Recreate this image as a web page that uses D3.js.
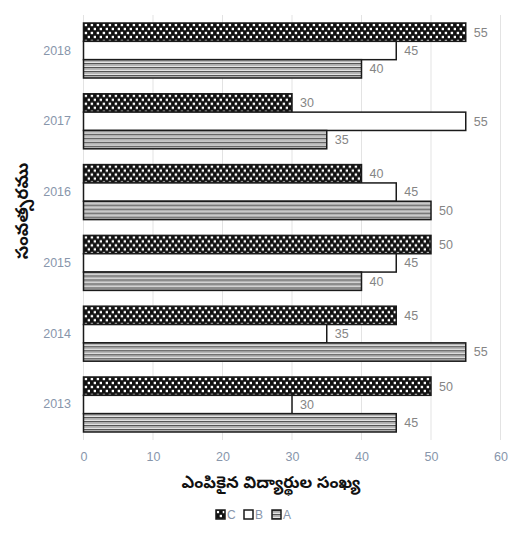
<!DOCTYPE html>
<html>
<head>
<meta charset="utf-8">
<script src="https://cdn.jsdelivr.net/npm/d3@7/dist/d3.min.js"></script>
<style>
  html, body { margin: 0; padding: 0; background: #fff; }
  svg { display: block; }
</style>
</head>
<body>
<svg id="chart" width="523" height="534"></svg>
<script>
// ---- data ----
const years = ["2018", "2017", "2016", "2015", "2014", "2013"];
const seriesNames = ["C", "B", "A"];           // top to bottom within each group
const valuesC = [55, 30, 40, 50, 45, 50];
const valuesB = [45, 55, 45, 45, 35, 30];
const valuesA = [40, 35, 50, 40, 55, 45];
const xTicks = [0, 10, 20, 30, 40, 50, 60];
const xTitle = "ఎంపికైన విద్యార్థుల సంఖ్య";
const yTitle = "సంవత్సరము";
const legendOrder = ["C", "B", "A"];

const seriesValues = { C: valuesC, B: valuesB, A: valuesA };

// ---- layout ----
const svg = d3.select("#chart");
const plotLeft = 83.5, plotRight = 500.5, plotTop = 15, plotBottom = 440;

const x = d3.scaleLinear().domain([0, 60]).range([plotLeft, plotRight]);
const y = d3.scaleBand().domain(years).range([plotTop, plotBottom]).paddingInner(0.223).paddingOuter(0.113);
const ySub = d3.scaleBand().domain(seriesNames).range([0, y.bandwidth()]).padding(0);

const tickColor = "#8896ab";
const labelFont = "'Liberation Sans', Arial, sans-serif";
const teluguFont = "'Noto Sans Telugu', 'Noto Serif Telugu', 'Gautami', 'Lohit Telugu', 'Noto Sans', sans-serif";

// ---- patterns ----
const defs = svg.append("defs");
const pc = defs.append("pattern").attr("id", "patC").attr("patternUnits", "userSpaceOnUse")
  .attr("width", 6).attr("height", 8);
pc.append("rect").attr("width", 6).attr("height", 8).attr("fill", "#111");
pc.append("rect").attr("x", 0.7).attr("y", 0.8).attr("width", 2.4).attr("height", 2.4).attr("fill", "#fff");
pc.append("rect").attr("x", 3.7).attr("y", 4.8).attr("width", 2.4).attr("height", 2.4).attr("fill", "#fff");

const pa = defs.append("pattern").attr("id", "patA").attr("patternUnits", "userSpaceOnUse")
  .attr("width", 8).attr("height", 4);
pa.append("rect").attr("width", 8).attr("height", 4).attr("fill", "#ececec");
pa.append("rect").attr("y", 0).attr("width", 8).attr("height", 1.4).attr("fill", "#555");
pa.append("rect").attr("y", 2.2).attr("width", 8).attr("height", 0.9).attr("fill", "#aaa");

const fills = { C: "url(#patC)", B: "#fff", A: "url(#patA)" };

// ---- gridlines ----
svg.append("g").selectAll("line").data(xTicks).join("line")
  .attr("x1", d => x(d)).attr("x2", d => x(d))
  .attr("y1", plotTop).attr("y2", plotBottom)
  .attr("stroke", "#e3e3e3").attr("stroke-width", 1);

// ---- x axis labels ----
const xAxis = d3.axisBottom(x).tickValues(xTicks).tickSize(0).tickPadding(0);
const gx = svg.append("g").attr("transform", `translate(0, ${plotBottom + 12})`).call(xAxis);
gx.select(".domain").remove();
gx.selectAll("text").attr("fill", tickColor).attr("font-size", 12.5).attr("font-family", labelFont);

// ---- y axis labels ----
const yAxis = d3.axisLeft(y).tickSize(0).tickPadding(0);
const gy = svg.append("g").attr("transform", `translate(71, 0)`).call(yAxis);
gy.select(".domain").remove();
gy.selectAll("text").attr("fill", tickColor).attr("font-size", 12.5).attr("font-family", labelFont);

// ---- bars ----
const groups = svg.append("g").selectAll("g").data(years).join("g")
  .attr("transform", d => `translate(0, ${y(d)})`);

const barData = (yr, i) => seriesNames.map(s => ({ s, v: seriesValues[s][i] }));

groups.each(function (yr, i) {
  const g = d3.select(this);
  const data = barData(yr, i);
  g.selectAll("rect").data(data).join("rect")
    .attr("x", x(0))
    .attr("y", d => ySub(d.s))
    .attr("width", d => x(d.v) - x(0))
    .attr("height", ySub.bandwidth())
    .attr("fill", d => fills[d.s])
    .attr("stroke", "#1a1a1a").attr("stroke-width", 1.5);
  g.selectAll("text").data(data).join("text")
    .attr("x", d => x(d.v) + 8)
    .attr("y", d => ySub(d.s) + ySub.bandwidth() / 2)
    .attr("dy", "0.35em")
    .attr("fill", "#858585").attr("font-size", 12.5).attr("font-family", labelFont)
    .text(d => d.v);
});

// ---- axis titles ----
svg.append("text")
  .attr("x", 271).attr("y", 482).attr("dy", "0.35em")
  .attr("text-anchor", "middle")
  .attr("font-family", teluguFont).attr("font-size", 16.5).attr("font-weight", "bold")
  .attr("fill", "#111")
  .text(xTitle);

svg.append("text")
  .attr("transform", "translate(22, 211) rotate(-90)")
  .attr("dy", "0.35em")
  .attr("text-anchor", "middle")
  .attr("font-family", teluguFont).attr("font-size", 17.5).attr("font-weight", "bold")
  .attr("fill", "#111")
  .text(yTitle);

// ---- legend ----
const legendX = d3.scalePoint().domain(legendOrder).range([216, 272]);
const lg = svg.append("g").selectAll("g").data(legendOrder).join("g")
  .attr("transform", d => `translate(${legendX(d)}, 510)`);
lg.append("rect").attr("width", 9).attr("height", 9)
  .attr("fill", d => fills[d]).attr("stroke", "#1a1a1a").attr("stroke-width", 1.5);
lg.append("text").attr("x", 11).attr("y", 4.5).attr("dy", "0.35em")
  .attr("fill", tickColor).attr("font-size", 12).attr("font-family", labelFont)
  .text(d => d);
</script>
</body>
</html>
